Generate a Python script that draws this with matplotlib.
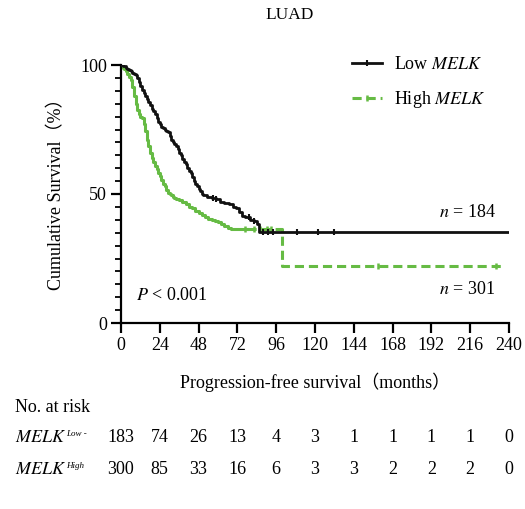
import numpy as np
import matplotlib
matplotlib.use('Agg')
import matplotlib.pyplot as plt
from matplotlib.lines import Line2D
from matplotlib import transforms

plt.rcParams['font.family'] = ['Liberation Serif', 'Noto Sans CJK SC']
plt.rcParams['mathtext.fontset'] = 'stix'
plt.rcParams['font.size'] = 13

# ── DATA ──────────────────────────────────────────────────────────────────────
# Kaplan-Meier steps (months, survival %)
low_t = [0, 1.5, 3, 4, 5, 6, 7, 8, 9, 10, 11, 12, 13, 14, 15, 16, 17, 18, 19, 20,
         21, 22, 23, 24, 25, 26, 27, 28, 29, 30, 31, 32, 33, 34, 35, 36, 37, 38,
         39, 40, 41, 42, 43, 44, 45, 46, 47, 48, 49, 50, 51, 53, 56, 59, 61, 64,
         67, 69, 71, 73, 75, 77, 80, 82, 84, 85.5, 240]
low_s = [100, 99.5, 99, 98.5, 98, 97.5, 97, 96.5, 96, 95, 93.5, 92, 90.5, 89, 88,
         87, 85.5, 84.5, 83, 82, 81, 79.5, 78, 77, 76, 75.5, 75, 74.5, 74, 72.5,
         71, 70, 69.5, 68.5, 67.5, 66, 65, 63.5, 62.5, 61.5, 60, 59, 58, 56.5, 55,
         54, 53, 52, 51, 50, 49.5, 49, 48.5, 48, 47, 46.5, 46, 45, 44.5, 43, 41.5,
         41, 40, 39.5, 38.5, 35.3, 35.3]
low_cens_t = [57, 59, 79, 82, 88, 91, 94, 109, 122, 132]

high_t = [0, 1, 2, 3, 4, 5, 6, 7, 8, 9, 10, 11, 12, 13, 14, 15, 16, 17, 18, 19,
          20, 21, 22, 23, 24, 25, 26, 27, 28, 29, 30, 31, 32, 33, 34, 36, 38, 40,
          42, 44, 46, 48, 50, 52, 54, 56, 58, 60, 62, 64, 66, 68, 71, 74, 78, 99.6,
          236]
high_s = [100, 99, 98.5, 97.5, 96.5, 95.5, 94, 91.5, 88, 85, 82.5, 81, 80, 79.5,
          77, 74.5, 71, 68.5, 66, 64, 62.5, 61, 59.5, 58, 57, 55.5, 54, 53, 51.5,
          50.5, 50, 49.5, 49, 48.5, 48, 47.5, 47, 46, 45, 44.5, 43.5, 42.5, 42, 41,
          40.5, 40, 39.5, 39, 38.5, 37.5, 37, 36.5, 36.5, 36.5, 36.5, 22, 22]
high_cens_t = [77, 82, 86, 90, 93, 159, 232]

risk_times = [0, 24, 48, 72, 96, 120, 144, 168, 192, 216, 240]
risk_low = [183, 74, 26, 13, 4, 3, 1, 1, 1, 1, 0]
risk_high = [300, 85, 33, 16, 6, 3, 3, 2, 2, 2, 0]

BLACK = '#111111'
GREEN = '#66bb44'
SPLIT = 78   # the green curve looks solid where it falls steeply, dashed on the tail


def surv_at(ts, ss, x):
    idx = np.searchsorted(ts, x, side='right') - 1
    return ss[idx]


fig = plt.figure(figsize=(5.25, 5.09), dpi=100)
ax = fig.add_axes([121 / 525, 1 - 323 / 509, 388 / 525, 258 / 509])

ax.step(low_t, low_s, where='post', color=BLACK, lw=2.0, zorder=3)
ax.plot(low_cens_t, [surv_at(low_t, low_s, c) for c in low_cens_t], ls='none',
        marker='|', ms=5, mew=1.5, color=BLACK, zorder=3)

ht = np.array(high_t)
hs = np.array(high_s)
k = int(np.searchsorted(ht, SPLIT, side='right'))
ax.step(ht[:k], hs[:k], where='post', color=GREEN, lw=2.2, zorder=2)
g, = ax.step(ht[k - 1:], hs[k - 1:], where='post', color=GREEN, lw=2.2, zorder=2)
g.set_dashes((3.0, 1.6))
ax.plot(high_cens_t, [surv_at(high_t, high_s, c) for c in high_cens_t], ls='none',
        marker='|', ms=5, mew=1.8, color=GREEN, zorder=2)

ax.set_xlim(0, 240)
ax.set_ylim(0, 100)
ax.set_xticks(risk_times)
ax.set_yticks([0, 50, 100])
ax.set_yticks(np.arange(0, 101, 5), minor=True)
ax.spines['top'].set_visible(False)
ax.spines['right'].set_visible(False)
for s in ('left', 'bottom'):
    ax.spines[s].set_linewidth(1.6)
ax.tick_params(which='major', length=7, width=1.6, labelsize=13)
ax.tick_params(which='minor', length=4.5, width=1.3)
ax.tick_params(axis='x', pad=3)
ax.tick_params(axis='y', pad=3)

ax.set_xlabel('Progression-free survival（months）', fontsize=13, va='center')
ax.xaxis.set_label_coords(0.5, -0.229)
ax.set_ylabel('Cumulative Survival（%）', fontsize=13, va='center')
ax.yaxis.set_label_coords(-0.165, 0.515)

handles = [Line2D([], [], color=BLACK, lw=2.0, marker='|', ms=5, mew=1.5),
           Line2D([], [], color=GREEN, lw=2.2, dashes=(3.0, 1.6), marker='|', ms=5, mew=1.8)]
ax.legend(handles, ['Low $\\mathit{MELK}$', 'High $\\mathit{MELK}$'],
          loc='upper left', bbox_to_anchor=(352 / 525, 1 - 56 / 509),
          bbox_transform=fig.transFigure, frameon=False, numpoints=1,
          borderpad=0, borderaxespad=0, handlelength=1.65, handletextpad=0.7,
          labelspacing=0.9, fontsize=13)

ax.text(197, 43, '$n$ = 184', fontsize=13, va='center')
ax.text(197, 12.8, '$n$ = 301', fontsize=13, va='center')
ax.text(9, 10.5, '$P$ < 0.001', fontsize=13, va='center')

fig.text(0.552, 1 - 15 / 509, 'LUAD', ha='center', va='center', fontsize=12.5)

# number at risk table
fig.text(15 / 525, 1 - 407 / 509, 'No. at risk', ha='left', va='center', fontsize=13)
fig.text(15 / 525, 1 - 438 / 509, '$\\mathit{MELK}$', ha='left', va='center', fontsize=13)
fig.text(66 / 525, 1 - 434 / 509, 'Low -', ha='left', va='center', fontsize=6.5,
         style='italic')
fig.text(15 / 525, 1 - 470 / 509, '$\\mathit{MELK}$', ha='left', va='center', fontsize=13)
fig.text(66 / 525, 1 - 466 / 509, 'High', ha='left', va='center', fontsize=6.5,
         style='italic')
tr = transforms.blended_transform_factory(ax.transData, fig.transFigure)
for t, a, b in zip(risk_times, risk_low, risk_high):
    ax.text(t, 1 - 438 / 509, str(a), transform=tr, ha='center', va='center',
            fontsize=13, clip_on=False)
    ax.text(t, 1 - 470 / 509, str(b), transform=tr, ha='center', va='center',
            fontsize=13, clip_on=False)

fig.savefig('out.png', dpi=100)
